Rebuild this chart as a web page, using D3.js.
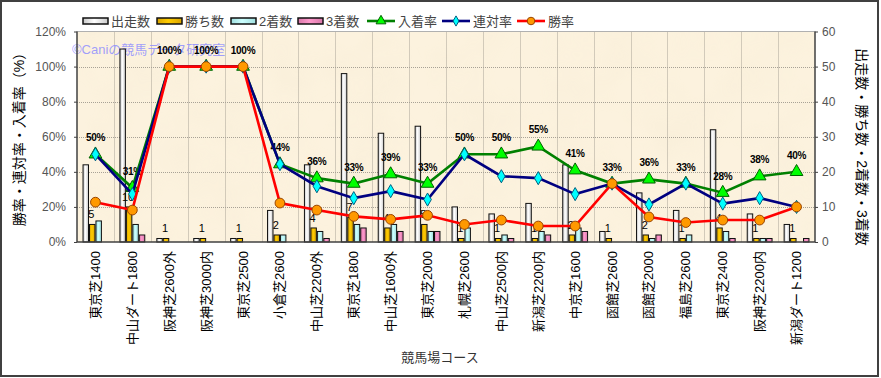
<!DOCTYPE html>
<html>
<head>
<meta charset="utf-8">
<script src="https://cdn.jsdelivr.net/npm/d3@7"></script>
<style>
  body { margin: 0; background: #fff; }
  text { font-family: "Liberation Sans", "Noto Sans CJK JP", sans-serif; }
</style>
</head>
<body>
<svg id="chart" width="881" height="378"></svg>
<script>
  var width = 881, height = 378
  var courses = ["東京芝1400", "中山ダート1800", "阪神芝2600外", "阪神芝3000内", "東京芝2500", "小倉芝2600", "中山芝2200外", "東京芝1800", "中山芝1600外", "東京芝2000", "札幌芝2600", "中山芝2500内", "新潟芝2200内", "中京芝1600", "函館芝2600", "函館芝2000", "福島芝2600", "東京芝2400", "阪神芝2200内", "新潟ダート1200"]
  var starts  = [22, 55, 1, 1, 1, 9, 22, 48, 31, 33, 10, 8, 11, 22, 3, 14, 9, 32, 8, 5]
  var wins    = [5, 10, 1, 1, 1, 2, 4, 7, 4, 5, 1, 1, 1, 2, 1, 2, 1, 4, 1, 1]
  var seconds = [6, 5, 0, 0, 0, 2, 3, 5, 5, 3, 4, 2, 3, 4, 0, 1, 2, 3, 1, 0]
  var thirds  = [0, 2, 0, 0, 0, 0, 1, 4, 3, 3, 0, 1, 2, 3, 0, 2, 0, 1, 1, 1]
  // rates in %
  var winRate   = [22.7, 18.2, 100, 100, 100, 22.2, 18.2, 14.6, 12.9, 15.2, 10, 12.5, 9.1, 9.1, 33.3, 14.3, 11.1, 12.5, 12.5, 20]
  var rentaiRate = [50, 27.3, 100, 100, 100, 44.4, 31.8, 25, 29, 24.2, 50, 37.5, 36.4, 27.3, 33.3, 21.4, 33.3, 21.9, 25, 20]
  var nyuchakuRate = [50, 30.9, 100, 100, 100, 44.4, 36.4, 33.3, 38.7, 33.3, 50, 50, 54.5, 40.9, 33.3, 35.7, 33.3, 28.1, 37.5, 40]
  var pctTicks = [0, 20, 40, 60, 80, 100, 120]
  var cntTicks = [0, 10, 20, 30, 40, 50, 60]

  var barSeries = [
    {name: "出走数", values: starts, grad: "gWhite"},
    {name: "勝ち数", values: wins, grad: "gGold"},
    {name: "2着数", values: seconds, grad: "gCyan"},
    {name: "3着数", values: thirds, grad: "gPink"}
  ]
  var lineSeries = [
    {name: "入着率", values: nyuchakuRate, line: "#008000", fill: "#00ff00", stroke: "#006000", shape: d3.symbolTriangle, size: 70},
    {name: "連対率", values: rentaiRate, line: "#000080", fill: "#00ffff", stroke: "#006080", shape: d3.symbolDiamond, size: 50},
    {name: "勝率", values: winRate, line: "#ff0000", fill: "#ff9900", stroke: "#994400", shape: d3.symbolCircle, size: 75}
  ]

  var plot = {left: 77, right: 815, top: 31.5, bottom: 242}

  var svg = d3.select("#chart")
  var defs = svg.append("defs")
  function grad(id, edge, mid) {
    var g = defs.append("linearGradient").attr("id", id).attr("x1", 0).attr("x2", 1).attr("y1", 0).attr("y2", 0)
    g.append("stop").attr("offset", "0%").attr("stop-color", edge)
    g.append("stop").attr("offset", "45%").attr("stop-color", mid)
    g.append("stop").attr("offset", "100%").attr("stop-color", edge)
  }
  grad("gWhite", "#c8c8c8", "#ffffff")
  grad("gGold", "#d9a400", "#ffcc00")
  grad("gCyan", "#9fdede", "#ccffff")
  grad("gPink", "#d877a8", "#ff99cc")

  // parchment texture
  var tex = defs.append("filter").attr("id", "paper").attr("x", 0).attr("y", 0).attr("width", 1).attr("height", 1)
  tex.append("feTurbulence").attr("type", "fractalNoise").attr("baseFrequency", 0.02).attr("numOctaves", 3).attr("seed", 4)
  tex.append("feColorMatrix").attr("type", "matrix")
    .attr("values", "0 0 0 0 0.86  0 0 0 0 0.78  0 0 0 0 0.6  0 0 0 0.5 -0.18")
  tex.append("feComposite").attr("in2", "SourceGraphic").attr("operator", "in")

  svg.append("rect").attr("width", width).attr("height", height).attr("fill", "#fff")
  svg.append("rect").attr("x", 1).attr("y", 1).attr("width", 877).attr("height", 375)
    .attr("fill", "none").attr("stroke", "#404040").attr("stroke-width", 2)

  var x0 = d3.scaleBand().domain(courses).range([plot.left, plot.right]).paddingInner(0.3).paddingOuter(0.15)
  var x1 = d3.scaleBand().domain(barSeries.map(function(s) { return s.name })).range([0, x0.bandwidth()])
  var yPct = d3.scaleLinear().domain([0, 120]).range([plot.bottom, plot.top])
  var yCnt = d3.scaleLinear().domain([0, 60]).range([plot.bottom, plot.top])
  var step = (plot.right - plot.left) / courses.length
  function cx(c) { return x0(c) + x0.bandwidth() / 2 }

  // plot background
  svg.append("rect").attr("x", plot.left).attr("y", plot.top)
    .attr("width", plot.right - plot.left).attr("height", plot.bottom - plot.top)
    .attr("fill", "#fcf2de")
  svg.append("rect").attr("x", plot.left).attr("y", plot.top)
    .attr("width", plot.right - plot.left).attr("height", plot.bottom - plot.top)
    .attr("fill", "#fff").attr("filter", "url(#paper)").attr("opacity", 0.6)

  // grid
  var grid = svg.append("g").attr("stroke", "#a8a296").attr("stroke-dasharray", "1,1").attr("stroke-width", 1)
  grid.selectAll("line.h").data(pctTicks.slice(1, -1)).enter().append("line")
    .attr("x1", plot.left).attr("x2", plot.right)
    .attr("y1", function(d) { return Math.round(yPct(d)) + 0.5 })
    .attr("y2", function(d) { return Math.round(yPct(d)) + 0.5 })
  grid.selectAll("line.v").data(d3.range(1, courses.length)).enter().append("line")
    .attr("y1", plot.top).attr("y2", plot.bottom)
    .attr("x1", function(i) { return Math.round(plot.left + i * step) + 0.5 })
    .attr("x2", function(i) { return Math.round(plot.left + i * step) + 0.5 })
  svg.append("line").attr("x1", plot.left).attr("x2", plot.right).attr("y1", plot.top).attr("y2", plot.top)
    .attr("stroke", "#b0b0b0")

  // watermark
  svg.append("text").attr("x", 72).attr("y", 54).attr("font-size", 13)
    .attr("fill", "#8f8fff").attr("fill-opacity", 0.85)
    .text("©Caniの競馬データ研究室")

  // bars
  var groups = svg.selectAll("g.course").data(courses).enter().append("g")
    .attr("transform", function(c) { return "translate(" + x0(c) + ",0)" })
  barSeries.forEach(function(s) {
    groups.append("rect")
      .attr("x", x1(s.name) + 0.5)
      .attr("width", x1.bandwidth() - 1)
      .attr("y", function(c, i) { return yCnt(s.values[i]) })
      .attr("height", function(c, i) { return plot.bottom - yCnt(s.values[i]) })
      .attr("fill", "url(#" + s.grad + ")")
      .attr("stroke", "#111").attr("stroke-width", 1)
      .attr("display", function(c, i) { return s.values[i] > 0 ? null : "none" })
  })

  // win count labels
  groups.append("text")
    .attr("x", x1("勝ち数") + x1.bandwidth() / 2 - 1)
    .attr("y", function(c, i) { return yCnt(wins[i]) - 6 })
    .attr("text-anchor", "middle").attr("font-size", 11).attr("fill", "#000")
    .text(function(c, i) { return wins[i] })

  // 入着率 labels
  svg.selectAll("text.pct").data(courses).enter().append("text")
    .attr("x", cx)
    .attr("y", function(c, i) { return yPct(nyuchakuRate[i]) - 13 })
    .attr("text-anchor", "middle").attr("font-size", 10).attr("font-weight", "bold")
    .attr("letter-spacing", -0.3).attr("fill", "#000")
    .text(function(c, i) { return Math.round(nyuchakuRate[i]) + "%" })

  // axes
  svg.append("line").attr("x1", plot.left).attr("x2", plot.left).attr("y1", plot.top).attr("y2", plot.bottom)
    .attr("stroke", "#404040").attr("stroke-width", 1.5)
  svg.append("line").attr("x1", plot.right).attr("x2", plot.right).attr("y1", plot.top).attr("y2", plot.bottom)
    .attr("stroke", "#404040").attr("stroke-width", 1.5)
  svg.append("line").attr("x1", plot.left).attr("x2", plot.right).attr("y1", plot.bottom).attr("y2", plot.bottom)
    .attr("stroke", "#404040").attr("stroke-width", 1.5)

  var leftAxis = svg.append("g").attr("transform", "translate(" + plot.left + ",0)")
    .call(d3.axisLeft(yPct).tickValues(pctTicks).tickSize(3).tickFormat(function(d) { return d + "%" }))
  var rightAxis = svg.append("g").attr("transform", "translate(" + plot.right + ",0)")
    .call(d3.axisRight(yCnt).tickValues(cntTicks).tickSize(3))
  ;[leftAxis, rightAxis].forEach(function(a) {
    a.select(".domain").remove()
    a.selectAll("line").attr("stroke", "#404040")
    a.selectAll("text").attr("font-size", 12).attr("fill", "#555")
      .attr("font-family", "\"Liberation Sans\", sans-serif")
  })
  leftAxis.selectAll("text").attr("x", -11)
  rightAxis.selectAll("text").attr("x", 7)

  // lines
  lineSeries.forEach(function(s) {
    var pts = courses.map(function(c, i) { return [cx(c), yPct(s.values[i])] })
    svg.append("path").attr("d", d3.line()(pts))
      .attr("fill", "none").attr("stroke", s.line).attr("stroke-width", 2.6)
    svg.selectAll(null).data(pts).enter().append("path")
      .attr("transform", function(p) { return "translate(" + p[0] + "," + p[1] + ")" })
      .attr("d", d3.symbol().type(s.shape).size(s.size))
      .attr("fill", s.fill).attr("stroke", s.stroke).attr("stroke-width", 1)
  })

  // category labels
  svg.selectAll("text.cat").data(courses).enter().append("text")
    .attr("transform", function(c) { return "translate(" + (cx(c) + 4.5) + "," + 251 + ") rotate(-90)" })
    .attr("text-anchor", "end").attr("font-size", 13).attr("fill", "#000")
    .text(function(c) { return c })

  // titles
  svg.append("text").attr("transform", "translate(24,136) rotate(-90)")
    .attr("text-anchor", "middle").attr("font-size", 14).attr("fill", "#000")
    .text("勝率・連対率・入着率（%）")
  svg.append("text").attr("transform", "translate(857,147) rotate(90)")
    .attr("text-anchor", "middle").attr("font-size", 14).attr("fill", "#000")
    .text("出走数・勝ち数・2着数・3着数")
  svg.append("text").attr("x", 440).attr("y", 362)
    .attr("text-anchor", "middle").attr("font-size", 13).attr("fill", "#333")
    .text("競馬場コース")

  // legend
  var legendX = [83, 157, 231, 298]
  var lg = svg.append("g")
  barSeries.forEach(function(s, i) {
    lg.append("rect").attr("x", legendX[i]).attr("y", 18).attr("width", 25).attr("height", 6)
      .attr("fill", "url(#" + s.grad + ")").attr("stroke", "#111").attr("stroke-width", 1.5)
    lg.append("text").attr("x", legendX[i] + 28).attr("y", 26).attr("font-size", 13).attr("fill", "#444")
      .text(s.name)
  })
  var lineLegendX = [367, 442, 517]
  lineSeries.forEach(function(s, i) {
    var lx = lineLegendX[i]
    lg.append("line").attr("x1", lx).attr("x2", lx + 28).attr("y1", 21).attr("y2", 21)
      .attr("stroke", s.line).attr("stroke-width", 2.6)
    lg.append("path").attr("transform", "translate(" + (lx + 14) + ",21)")
      .attr("d", d3.symbol().type(s.shape).size(s.size * 0.6))
      .attr("fill", s.fill).attr("stroke", s.stroke)
    lg.append("text").attr("x", lx + 31).attr("y", 26).attr("font-size", 13).attr("fill", "#444")
      .text(s.name)
  })
</script>
</body>
</html>
